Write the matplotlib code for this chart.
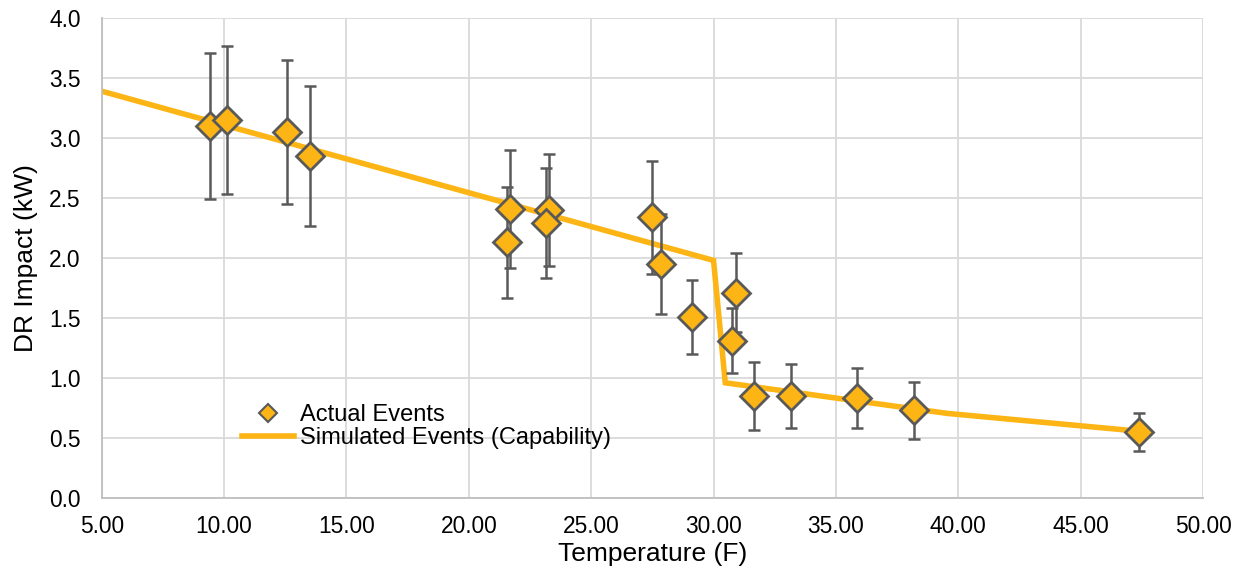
import numpy as np
import matplotlib.pyplot as plt

plt.rcParams['font.family'] = ['Liberation Sans', 'DejaVu Sans']

# observed DR events: temperature (F), impact (kW), error half-width (kW)
event_temp = [9.43, 10.11, 12.59, 13.52, 21.56, 21.69, 23.26, 23.16, 27.48,
              27.85, 29.13, 30.92, 30.76, 31.67, 33.17, 35.87, 38.20, 47.38]
event_kw = [3.10, 3.15, 3.05, 2.85, 2.13, 2.41, 2.40, 2.29, 2.34,
            1.95, 1.51, 1.71, 1.31, 0.85, 0.85, 0.83, 0.73, 0.55]
event_err = [0.61, 0.62, 0.60, 0.58, 0.46, 0.49, 0.47, 0.46, 0.47,
             0.42, 0.31, 0.33, 0.27, 0.28, 0.27, 0.25, 0.235, 0.155]

# simulated capability curve
sim_temp = [5.0, 30.0, 30.48, 39.55, 47.2]
sim_kw = [3.39, 1.98, 0.96, 0.705, 0.56]

gold = '#FDB515'
edge = '#595959'

fig = plt.figure(figsize=(12.41, 5.71), dpi=100)
ax = fig.add_axes([101.7 / 1241, 73 / 571, (1203 - 101.7) / 1241, 480 / 571])

ax.plot(sim_temp, sim_kw, color=gold, lw=4, solid_joinstyle='miter',
        label='Simulated Events (Capability)', zorder=2)
ax.errorbar(event_temp, event_kw, yerr=event_err, fmt='none', ecolor=edge,
            elinewidth=1.8, capsize=4.5, capthick=1.8, zorder=3)
ax.plot(event_temp, event_kw, ls='none', marker='D', ms=14, mfc=gold, mec=edge,
        mew=2, zorder=4)
ax.plot([], [], ls='none', marker='D', ms=9, mfc=gold, mec=edge, mew=1.5,
        label='Actual Events')

ax.set_xlim(5, 50)
ax.set_ylim(0, 4)
ax.set_xticks(np.arange(5, 50.1, 5))
ax.set_xticklabels([f'{v:.2f}' for v in np.arange(5, 50.1, 5)])
ax.set_yticks(np.arange(0, 4.01, 0.5))
ax.set_yticklabels([f'{v:.1f}' for v in np.arange(0, 4.01, 0.5)])
ax.tick_params(length=0, labelsize=16.4, colors='#000000')
ax.tick_params(axis='x', pad=12)
ax.tick_params(axis='y', pad=15)
ax.grid(color='#D9D9D9', lw=1.3)
ax.set_axisbelow(True)
for side in ['top', 'right']:
    ax.spines[side].set_visible(False)
for side in ['left', 'bottom']:
    ax.spines[side].set_color('#BFBFBF')
    ax.spines[side].set_linewidth(1.3)

ax.set_xlabel('Temperature (F)', fontsize=19, labelpad=3)
ax.set_ylabel('DR Impact (kW)', fontsize=19, labelpad=8)

handles, labels = ax.get_legend_handles_labels()
ax.legend(handles[::-1], labels[::-1], loc='upper left',
          bbox_to_anchor=(0.1186, 0.215), frameon=False, fontsize=17,
          handlelength=2.2, handletextpad=0.25, labelspacing=0.05,
          borderaxespad=0)

fig.savefig('out.png', dpi=100)
